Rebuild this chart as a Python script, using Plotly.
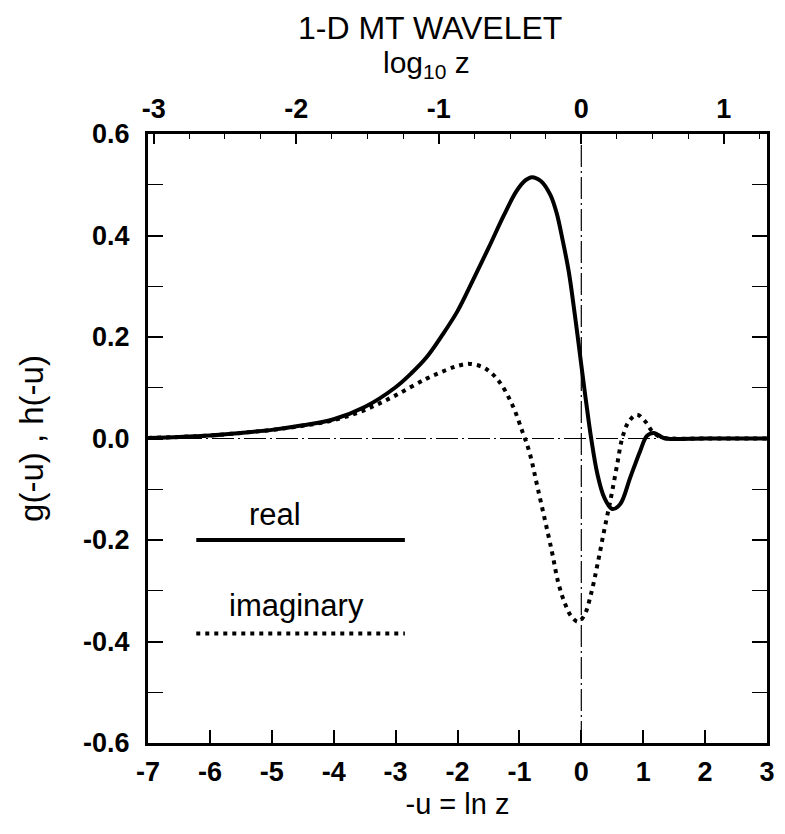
import math
import plotly.graph_objects as go

# ---- data ----
x_real = [-7, -6.5, -6, -5.5, -5, -4.5, -4, -3.5, -3, -2.75, -2.5, -2.25, -2.0, -1.75,
          -1.5, -1.25, -1.05, -0.9, -0.8, -0.65, -0.5, -0.4, -0.3, -0.2, -0.1, 0.0,
          0.08, 0.16, 0.26, 0.37, 0.5, 0.63, 0.79, 0.95, 1.06, 1.17, 1.33, 1.48, 2.0, 3.0]
g_real = [0.001, 0.003, 0.006, 0.011, 0.017, 0.026, 0.038, 0.062, 0.101, 0.128, 0.160,
          0.203, 0.251, 0.312, 0.375, 0.440, 0.487, 0.509, 0.515, 0.507, 0.48, 0.445,
          0.39, 0.327, 0.24, 0.145, 0.07, 0.0, -0.07, -0.116, -0.139, -0.129, -0.077,
          -0.025, 0.005, 0.011, 0.001, -0.001, 0.0, 0.0]

x_imag = [-7, -6.5, -6, -5.5, -5, -4.5, -4, -3.5, -3, -2.5, -2.2, -2.0, -1.8, -1.55,
          -1.32, -1.11, -0.95, -0.84, -0.7, -0.48, -0.37, -0.265, -0.16, -0.05, 0.05,
          0.16, 0.265, 0.37, 0.48, 0.58, 0.66, 0.77, 0.9, 1.03, 1.14, 1.27, 1.48, 2.0, 3.0]
h_imag = [0.001, 0.003, 0.006, 0.011, 0.017, 0.025, 0.036, 0.056, 0.085, 0.118, 0.134,
          0.143, 0.147, 0.138, 0.111, 0.065, 0.013, -0.026, -0.10, -0.22, -0.285,
          -0.325, -0.351, -0.361, -0.348, -0.305, -0.246, -0.181, -0.116, -0.051,
          0.0, 0.034, 0.047, 0.034, 0.015, 0.003, 0.0, 0.0, 0.0]

x_ticks = [-7, -6, -5, -4, -3, -2, -1, 0, 1, 2, 3]
y_ticks = [-0.6, -0.4, -0.2, 0.0, 0.2, 0.4, 0.6]
y_tick_text = ["-0.6", "-0.4", "-0.2", "0.0", "0.2", "0.4", "0.6"]
top_ticks = [-3, -2, -1, 0, 1]

series_names = ["real", "imaginary"]

# ---- layout constants ----
X_RANGE = [-7, 3]
Y_RANGE = [-0.6, 0.6]
LN10 = math.log(10)
FONT = "Liberation Sans"
BLACK = "#000000"
TICKFONT = dict(size=27, family=FONT, weight="bold", color=BLACK)
DOT = "4px,5px"

fig = go.Figure()
fig.add_trace(go.Scatter(x=x_real, y=g_real, mode="lines", name=series_names[0],
                         line=dict(color=BLACK, width=4, shape="spline", smoothing=1.0),
                         showlegend=False))
fig.add_trace(go.Scatter(x=x_imag, y=h_imag, mode="lines", name=series_names[1],
                         line=dict(color=BLACK, width=4, dash=DOT, shape="spline",
                                   smoothing=1.0),
                         showlegend=False))
# helper trace so the top (log10 z) axis is drawn
fig.add_trace(go.Scatter(x=[v / LN10 for v in x_real], y=g_real, xaxis="x2", mode="lines",
                         line=dict(width=0, color="rgba(0,0,0,0)"), hoverinfo="skip",
                         showlegend=False))

# zero reference lines (dash-dot)
dd = "22px,4px,2px,4px"
fig.add_shape(type="line", xref="x domain", yref="y", x0=0, x1=1, y0=0, y1=0,
              line=dict(color=BLACK, width=1.2, dash=dd), layer="below")
fig.add_shape(type="line", xref="x", yref="y domain", x0=0, x1=0, y0=0, y1=1,
              line=dict(color=BLACK, width=1.2, dash=dd), layer="below")

# in-plot legend
LEG_X0, LEG_X1 = -6.22, -2.85
LEG_Y = [-0.2, -0.384]
LEG_TXT_X = [-4.95, -4.6]
LEG_TXT_Y = [-0.15, -0.33]
fig.add_shape(type="line", xref="x", yref="y", x0=LEG_X0, x1=LEG_X1, y0=LEG_Y[0], y1=LEG_Y[0],
              line=dict(color=BLACK, width=4))
fig.add_shape(type="line", xref="x", yref="y", x0=LEG_X0, x1=LEG_X1, y0=LEG_Y[1], y1=LEG_Y[1],
              line=dict(color=BLACK, width=4, dash=DOT))
for i, nm in enumerate(series_names):
    fig.add_annotation(x=LEG_TXT_X[i], y=LEG_TXT_Y[i], xref="x", yref="y", text=nm,
                       showarrow=False, font=dict(family=FONT, size=31, color=BLACK))

axis_common = dict(showgrid=False, zeroline=False, color=BLACK, linecolor=BLACK,
                   ticks="inside", tickcolor=BLACK, tickfont=TICKFONT)

# the page body adds an 8px offset, so the figure is 8px smaller on the left/top
fig.update_layout(
    width=777, height=818,
    margin=dict(l=140, r=10, t=126, b=79),
    paper_bgcolor="white", plot_bgcolor="white",
    font=dict(family=FONT, color=BLACK),
    xaxis=dict(range=X_RANGE, tickvals=x_ticks, ticktext=[str(v) for v in x_ticks],
               showline=True, linewidth=3, mirror=True, ticklen=13, tickwidth=1.5,
               ticklabelstandoff=3,
               title=dict(text="-u = ln z", font=dict(size=29, color=BLACK), standoff=8),
               **axis_common),
    xaxis2=dict(range=[X_RANGE[0] / LN10, X_RANGE[1] / LN10], overlaying="x", side="top",
                anchor="y", tickvals=top_ticks, ticktext=[str(v) for v in top_ticks],
                showline=False, ticklen=10, tickwidth=1.5, ticklabelstandoff=10,
                minor=dict(dtick=0.25, ticklen=5, tickwidth=1, ticks="inside", tickcolor=BLACK),
                **axis_common),
    yaxis=dict(range=Y_RANGE, tickvals=y_ticks, ticktext=y_tick_text,
               showline=True, linewidth=3, mirror="allticks", ticklen=15, tickwidth=1.5,
               ticklabelstandoff=10,
               minor=dict(dtick=0.1, tick0=0, ticklen=7, tickwidth=1, ticks="inside",
                          tickcolor=BLACK),
               title=dict(text="g(-u) , h(-u)", font=dict(size=33, color=BLACK), standoff=30),
               **axis_common),
)

fig.add_annotation(text="1-D MT WAVELET", xref="paper", yref="paper", x=0.455, y=1.0,
                   yshift=106, showarrow=False, xanchor="center", yanchor="middle",
                   font=dict(size=32, family=FONT, color=BLACK))
fig.add_annotation(text="log<sub>10</sub> z", xref="paper", yref="paper", x=0.45, y=1.0,
                   yshift=70, showarrow=False, xanchor="center", yanchor="middle",
                   font=dict(size=30, family=FONT, color=BLACK))

fig.write_html("out.html")
